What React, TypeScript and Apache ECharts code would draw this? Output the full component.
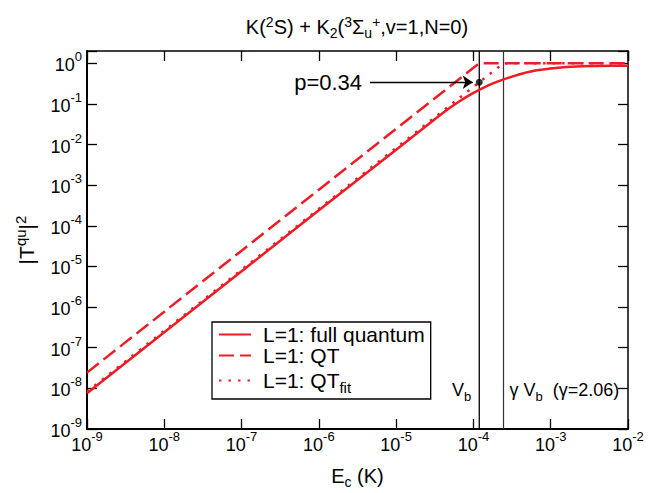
import React, { useEffect, useRef } from "react";
import * as echarts from "echarts";

// Collision energy E_c (K) and |T^qu|^2 for the full quantum calculation
const energyK = [
  1e-9, 1e-8, 1e-7, 1e-6, 1e-5, 3.16e-5, 3.98e-5, 5.01e-5, 6.31e-5, 7.94e-5,
  1e-4, 1.26e-4, 1.58e-4, 2.0e-4, 2.51e-4, 3.16e-4, 3.98e-4, 5.01e-4, 6.31e-4,
  1e-3, 1.58e-3, 2.51e-3, 3.98e-3, 6.31e-3, 1e-2,
];
const fullQuantum = [
  7.6e-9, 2.4e-7, 7.6e-6, 2.4e-4, 7.4e-3, 0.0417, 0.0589, 0.0813, 0.1096, 0.1445,
  0.186, 0.234, 0.288, 0.347, 0.407, 0.468, 0.537, 0.603, 0.661,
  0.741, 0.803, 0.841, 0.861, 0.871, 0.871,
];

// Quantum-threshold (QT) model
const qtEnergyK = [1e-9, 1e-8, 1e-7, 1e-6, 1e-5, 1e-4, 1.19e-4, 1e-2];
const qtValues = [2.44e-8, 7.7e-7, 2.44e-5, 7.7e-4, 0.0244, 0.771, 1.0, 1.0];

// QT model with fitted barrier (QT_fit)
const qtFitEnergyK = [1e-9, 1e-8, 1e-7, 1e-6, 1e-5, 1e-4, 1.19e-4, 2.45e-4, 1e-2];
const qtFitValues = [8.3e-9, 2.62e-7, 8.3e-6, 2.62e-4, 8.3e-3, 0.262, 0.34, 1.0, 1.0];

// Barrier energies and the probability marker
const V_B = 1.19e-4;
const GAMMA_V_B = 2.45e-4;
const P_VALUE = 0.34;
const ARROW_FROM_E = 4.6e-6;
const ARROW_TO_E = 9.8e-5;
const BARRIER_LABEL_Y = 9e-9;

const X_MIN = 1e-9;
const X_MAX = 1e-2;
const Y_MIN = 1e-9;
const Y_MAX = 2;

const RED = "#ee1c25";
const FONT = "'Liberation Sans', Arial, Helvetica, sans-serif";

const pairs = (xs: number[], ys: number[]) => xs.map((x, i) => [x, ys[i]]);

const powerLabel = (v: number) => {
  const lg = Math.log10(v);
  const e = Math.round(lg);
  if (Math.abs(lg - e) > 0.01) return "";
  return `{b|10}{s|${e}}`;
};

const tickRich = {
  b: { fontSize: 18, lineHeight: 18, verticalAlign: "bottom", fontFamily: FONT, color: "#000" },
  s: {
    fontSize: 13,
    lineHeight: 13,
    padding: [0, 0, 11, 0],
    verticalAlign: "bottom",
    fontFamily: FONT,
    color: "#000",
  },
};

export default function App() {
  const ref = useRef<HTMLDivElement>(null);

  useEffect(() => {
    if (!ref.current) return;
    const chart = echarts.init(ref.current, undefined, { renderer: "svg" });

    const baseAxisLine = { show: true, onZero: false, lineStyle: { color: "#000", width: 2 } };
    const baseTick = { show: true, inside: true, length: 10, lineStyle: { color: "#000", width: 1.3 } };

    const barrierLine = (name: string, e: number, color: string, width: number) => ({
      name,
      type: "line",
      data: [
        [e, Y_MIN],
        [e, Y_MAX],
      ],
      symbol: "none",
      silent: true,
      lineStyle: { color, width },
      z: 2,
    });

    const option: any = {
      animation: false,
      backgroundColor: "#fff",
      textStyle: { fontFamily: FONT },
      title: {
        text:
          "{a|K(}{sup|2}{a|S) + K}{sub|2}{a|(}{sup|3}{a|Σ}{sub|u}{sup|+}{a|,v=1,N=0)}",
        left: 357,
        top: 15,
        padding: 0,
        textAlign: "center",
        textStyle: {
          fontWeight: "normal",
          rich: {
            a: { fontSize: 20, lineHeight: 24, fontWeight: "normal", fontFamily: FONT, color: "#000" },
            sup: {
              fontSize: 14,
              lineHeight: 14,
              padding: [0, 0, 11, 0],
              fontWeight: "normal",
              fontFamily: FONT,
              color: "#000",
            },
            sub: {
              fontSize: 14,
              lineHeight: 14,
              padding: [11, 0, 0, 0],
              fontWeight: "normal",
              fontFamily: FONT,
              color: "#000",
            },
          },
        },
      },
      grid: {
        left: 87,
        right: 20,
        top: 51,
        bottom: 64,
        containLabel: false,
        outerBoundsMode: "none",
      },
      legend: {
        data: ["L=1: full quantum", "L=1: QT", "L=1: QT_fit"],
        orient: "vertical",
        left: 212,
        top: 322,
        padding: [2, 6, 4, 6],
        itemGap: 0,
        itemWidth: 32,
        itemHeight: 14,
        selectedMode: false,
        borderColor: "#000",
        borderWidth: 1.3,
        backgroundColor: "#fff",
        itemStyle: { opacity: 0 },
        formatter: (name: string) =>
          name === "L=1: QT_fit" ? "{t|L=1: QT}{sub|fit}" : `{t|${name}}`,
        textStyle: {
          padding: [0, 0, 0, 7],
          rich: {
            t: { fontSize: 21, lineHeight: 25, fontFamily: FONT, color: "#000" },
            sub: { fontSize: 15, lineHeight: 14, padding: [14, 0, 0, 0], fontFamily: FONT, color: "#000" },
          },
        },
      },
      xAxis: [
        {
          type: "log",
          min: X_MIN,
          max: X_MAX,
          position: "bottom",
          axisLine: baseAxisLine,
          axisTick: baseTick,
          minorTick: { show: false },
          splitLine: { show: false },
          axisLabel: {
            margin: 7,
            formatter: powerLabel,
            rich: tickRich,
          },
          name: "{a|E}{sub|c}{a| (K)}",
          nameLocation: "middle",
          nameGap: 35,
          nameTextStyle: {
            rich: {
              a: { fontSize: 20, lineHeight: 24, fontFamily: FONT, color: "#000" },
              sub: { fontSize: 14, lineHeight: 14, padding: [12, 0, 0, 0], fontFamily: FONT, color: "#000" },
            },
          },
        },
        {
          type: "log",
          min: X_MIN,
          max: X_MAX,
          position: "top",
          axisLine: { ...baseAxisLine, lineStyle: { color: "#000", width: 1.5 } },
          axisTick: baseTick,
          axisLabel: { show: false },
          splitLine: { show: false },
        },
      ],
      yAxis: [
        {
          type: "log",
          min: Y_MIN,
          max: Y_MAX,
          position: "left",
          axisLine: baseAxisLine,
          axisTick: baseTick,
          minorTick: { show: false },
          splitLine: { show: false },
          axisLabel: {
            margin: 5,
            padding: [4, 0, 0, 0],
            formatter: powerLabel,
            rich: tickRich,
          },
          name: "{a||T}{sup|qu}{a||}{sup|2}",
          nameLocation: "middle",
          nameRotate: 90,
          nameGap: 45,
          nameTextStyle: {
            rich: {
              a: { fontSize: 21, lineHeight: 24, fontFamily: FONT, color: "#000" },
              sup: { fontSize: 15, lineHeight: 14, padding: [0, 0, 12, 0], fontFamily: FONT, color: "#000" },
            },
          },
        },
        {
          type: "log",
          min: Y_MIN,
          max: Y_MAX,
          position: "right",
          axisLine: { ...baseAxisLine, lineStyle: { color: "#000", width: 1.5 } },
          axisTick: baseTick,
          axisLabel: { show: false },
          splitLine: { show: false },
        },
      ],
      series: [
        barrierLine("V_b", V_B, "#000", 1.3),
        barrierLine("gamma V_b", GAMMA_V_B, "#333", 1.2),
        {
          name: "L=1: full quantum",
          type: "line",
          data: pairs(energyK, fullQuantum),
          symbol: "none",
          lineStyle: { color: RED, width: 2.5 },
          itemStyle: { color: RED },
          z: 3,
        },
        {
          name: "L=1: QT",
          type: "line",
          data: pairs(qtEnergyK, qtValues),
          symbol: "none",
          lineStyle: { color: RED, width: 2.5, type: [15, 6] },
          itemStyle: { color: RED },
          z: 3,
        },
        {
          name: "L=1: QT_fit",
          type: "line",
          data: pairs(qtFitEnergyK, qtFitValues),
          symbol: "none",
          lineStyle: { color: RED, width: 2.5, type: [2.5, 7] },
          itemStyle: { color: RED },
          z: 3,
        },
        {
          name: "p",
          type: "scatter",
          data: [[V_B, P_VALUE]],
          symbol: "circle",
          symbolSize: 7,
          itemStyle: { color: "#000" },
          silent: true,
          z: 5,
          markLine: {
            silent: true,
            symbol: ["none", "arrow"],
            symbolSize: 10,
            lineStyle: { color: "#000", width: 1.3, type: "solid" },
            label: {
              show: true,
              position: "start",
              distance: 8,
              formatter: "p=0.34",
              fontSize: 22,
              fontFamily: FONT,
              color: "#000",
            },
            data: [[{ coord: [ARROW_FROM_E, P_VALUE] }, { coord: [ARROW_TO_E, P_VALUE] }]],
          },
        },
        {
          name: "barrier labels",
          type: "scatter",
          symbolSize: 0,
          silent: true,
          data: [
            {
              value: [V_B, BARRIER_LABEL_Y],
              label: { position: "left", distance: 8, formatter: "{v|V}{sub|b}" },
            },
            {
              value: [GAMMA_V_B, BARRIER_LABEL_Y],
              label: { position: "right", distance: 6, formatter: "{v|γ V}{sub|b}{v|  (γ=2.06)}" },
            },
          ],
          label: {
            show: true,
            color: "#000",
            opacity: 1,
            rich: {
              v: { fontSize: 18, lineHeight: 22, fontFamily: FONT, color: "#000" },
              sub: { fontSize: 13, lineHeight: 13, padding: [12, 0, 0, 0], fontFamily: FONT, color: "#000" },
            },
          },
          itemStyle: { opacity: 1 },
        },
      ],
    };

    chart.setOption(option);
    return () => chart.dispose();
  }, []);

  return (
    <div
      ref={ref}
      style={{ position: "fixed", left: 0, top: 0, width: 648, height: 493 }}
    />
  );
}
